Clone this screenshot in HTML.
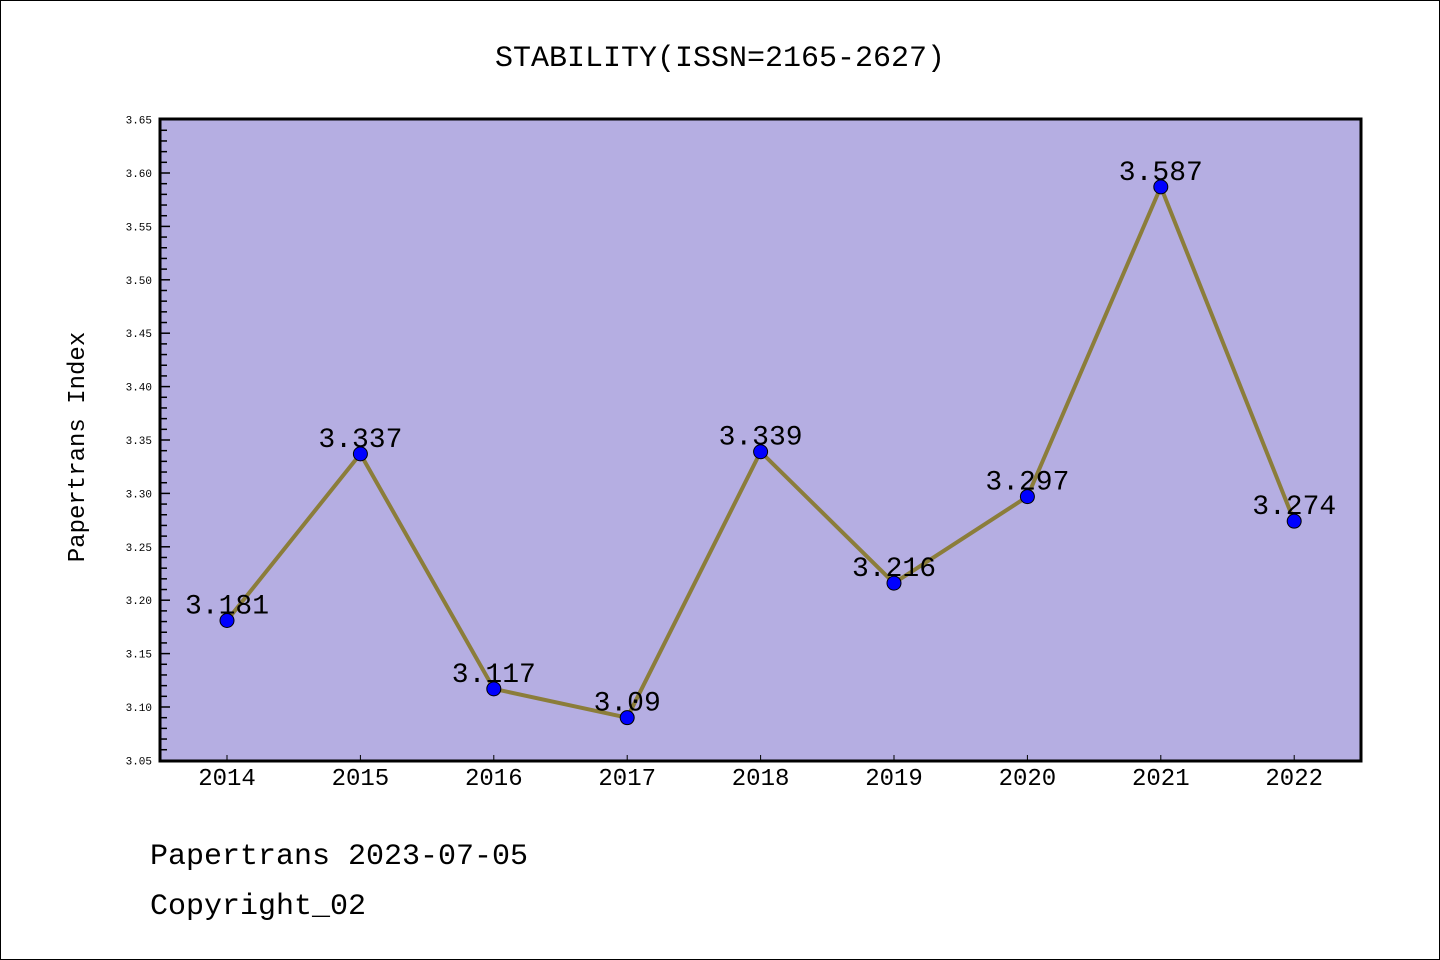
<!DOCTYPE html>
<html><head><meta charset="utf-8"><style>
body{margin:0;background:#fff}
svg{display:block}
text{font-family:"Liberation Mono","DejaVu Sans Mono",monospace}
</style></head><body>
<svg id="c" width="1440" height="960">
<rect x="0.5" y="0.5" width="1439" height="959" fill="#fff" stroke="#000"/>
<text x="720" y="66" text-anchor="middle" font-size="30">STABILITY(ISSN=2165-2627)</text>
<rect x="160" y="119" width="1201" height="642" fill="#b5aee2"/>
<g id="ticks"></g>
<g id="series"></g>
<rect x="160" y="119" width="1201" height="642" fill="none" stroke="#000" stroke-width="3"/>
<text transform="translate(84,447) rotate(-90)" text-anchor="middle" font-size="24">Papertrans Index</text>
<text x="150" y="864" font-size="30">Papertrans 2023-07-05</text>
<text x="150" y="914" font-size="30">Copyright_02</text>
</svg>
<script>
const years=["2014","2015","2016","2017","2018","2019","2020","2021","2022"];
const values=[3.181,3.337,3.117,3.09,3.339,3.216,3.297,3.587,3.274];
const labels=["3.181","3.337","3.117","3.09","3.339","3.216","3.297","3.587","3.274"];
const yTicks=["3.05","3.10","3.15","3.20","3.25","3.30","3.35","3.40","3.45","3.50","3.55","3.60","3.65"];
const NS="http://www.w3.org/2000/svg";
const X=i=>227+i*133.4;
const Y=v=>760.4-(v-3.05)*1068;
function mk(t,a,p){const e=document.createElementNS(NS,t);for(const k in a)e.setAttribute(k,a[k]);p.appendChild(e);return e;}
const tg=document.getElementById('ticks'),sg=document.getElementById('series');
for(let k=0;k<=60;k++){const v=3.05+k*0.01,y=Y(v),maj=k%5===0;
 const l=mk('line',{x1:160,x2:160+(maj?10:7),y1:y,y2:y,stroke:'#000','stroke-width':1.5},tg);
 
 }
yTicks.forEach(s=>{const t=mk('text',{x:152,y:Y(+s)+4,'text-anchor':'end','font-size':11,'font-family':'Liberation Sans, sans-serif'},tg);t.textContent=s;
 
 });
years.forEach((s,i)=>{const l=mk('line',{x1:X(i),x2:X(i),y1:761,y2:755,stroke:'#000','stroke-width':1},tg);
 
 
 const t=mk('text',{x:X(i),y:785,'text-anchor':'middle','font-size':24,'font-family':'Liberation Sans, sans-serif'},tg);t.textContent=s;
 
 });
const pl=mk('polyline',{points:values.map((v,i)=>X(i)+','+Y(v)).join(' '),fill:'none',stroke:'#8b7d3a','stroke-width':4,'stroke-linejoin':'round'},sg);


values.forEach((v,i)=>{const c=mk('circle',{cx:X(i),cy:Y(v),r:7,fill:'#0000ff',stroke:'#000','stroke-width':1},sg);
 
 
 const t=mk('text',{x:X(i),y:Y(v)-7,'text-anchor':'middle','font-size':28},sg);t.textContent=labels[i];
 
 });
</script>
</body></html>
